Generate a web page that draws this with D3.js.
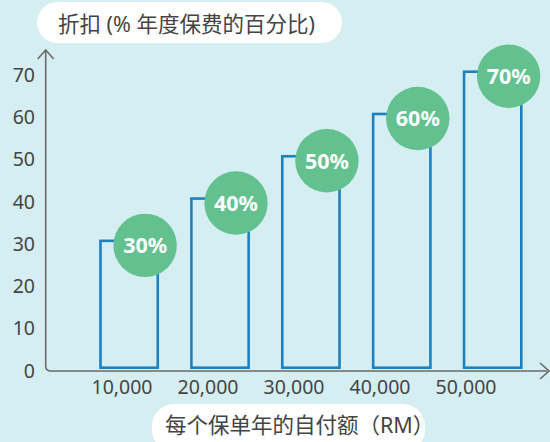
<!DOCTYPE html>
<html>
<head>
<meta charset="utf-8">
<script src="https://cdn.jsdelivr.net/npm/d3@7"></script>
<style>
  body { margin: 0; background: #d5eef1; }
  svg { display: block; font-family: "Noto Sans", "Noto Sans CJK SC", sans-serif; }
</style>
</head>
<body>
<div id="chart"></div>
<script>
var categories = ["10,000", "20,000", "30,000", "40,000", "50,000"];
var discounts = [30, 40, 50, 60, 70];
var yTicks = [0, 10, 20, 30, 40, 50, 60, 70];
var yTitle = "折扣 (% 年度保费的百分比)";
var xTitle = "每个保单年的自付额（RM）";

var width = 550, height = 442;
var bg = "#d5eef1";

var svg = d3.select("#chart").append("svg")
    .attr("width", width)
    .attr("height", height);

svg.append("rect").attr("width", width).attr("height", height).attr("fill", bg);

var y = d3.scaleLinear().domain([0, 70]).range([367.7, 71.7]);

// bars sit on a band scale, labels under them are a bit tighter
var x = d3.scaleBand()
    .domain(categories)
    .range([100.5, 521.3])
    .paddingInner(0.37)
    .paddingOuter(0);

var xLab = d3.scalePoint()
    .domain(categories)
    .range([122, 466]);

// axes lines with rounded corner and arrows
var axisColor = "#6a6a6a";
svg.append("path")
    .attr("d", "M45.7,51 L45.7,366 Q45.7,371 51,371 L547,371")
    .attr("fill", "none")
    .attr("stroke", axisColor)
    .attr("stroke-width", 1.6);
svg.append("path")
    .attr("d", "M37.7,59 L45.7,50 L53.7,59")
    .attr("fill", "none").attr("stroke", axisColor).attr("stroke-width", 1.6);
svg.append("path")
    .attr("d", "M540,363 L549,371 L540,379")
    .attr("fill", "none").attr("stroke", axisColor).attr("stroke-width", 1.6);

// y tick labels
svg.append("g").selectAll("text")
    .data(yTicks)
    .enter().append("text")
    .attr("x", 35)
    .attr("y", function(d) { return y(d) + 3; })
    .attr("dy", "0.36em")
    .attr("text-anchor", "end")
    .attr("font-size", 19.5)
    .attr("fill", "#444")
    .text(function(d) { return d; });

// x tick labels
svg.append("g").selectAll("text")
    .data(categories)
    .enter().append("text")
    .attr("x", function(d) { return xLab(d); })
    .attr("y", 394)
    .attr("text-anchor", "middle")
    .attr("font-size", 19.5)
    .attr("fill", "#444")
    .text(function(d) { return d; });

// bars (outline only)
var data = categories.map(function(c, i) { return {cat: c, val: discounts[i]}; });

svg.append("g").selectAll("rect")
    .data(data)
    .enter().append("rect")
    .attr("x", function(d) { return x(d.cat); })
    .attr("y", function(d) { return y(d.val); })
    .attr("width", x.bandwidth())
    .attr("height", function(d) { return y(0) - y(d.val); })
    .attr("fill", "none")
    .attr("stroke", "#1d80bf")
    .attr("stroke-width", 2.6);

// green badges
var badges = svg.append("g").selectAll("g")
    .data(data)
    .enter().append("g")
    .attr("transform", function(d) {
        return "translate(" + (x(d.cat) + x.bandwidth() / 2 + 16) + "," + (y(d.val) + 4.5) + ")";
    });

badges.append("circle")
    .attr("r", 31.7)
    .attr("fill", "#63c18f");

badges.append("text")
    .attr("text-anchor", "middle")
    .attr("dy", "0.36em")
    .attr("font-size", 21.5)
    .attr("font-weight", "bold")
    .attr("fill", "#fff")
    .text(function(d) { return d.val + "%"; });

// title pills
svg.append("rect")
    .attr("x", 37).attr("y", 2)
    .attr("width", 305).attr("height", 41)
    .attr("rx", 20.5)
    .attr("fill", "#fff");
svg.append("text")
    .attr("x", 58).attr("y", 32)
    .attr("font-size", 21.5)
    .attr("fill", "#444")
    .text(yTitle);

svg.append("rect")
    .attr("x", 152).attr("y", 404)
    .attr("width", 273).attr("height", 48)
    .attr("rx", 22)
    .attr("fill", "#fff");
svg.append("text")
    .attr("x", 165).attr("y", 433)
    .attr("font-size", 21.5)
    .attr("fill", "#444")
    .text(xTitle);
</script>
</body>
</html>
